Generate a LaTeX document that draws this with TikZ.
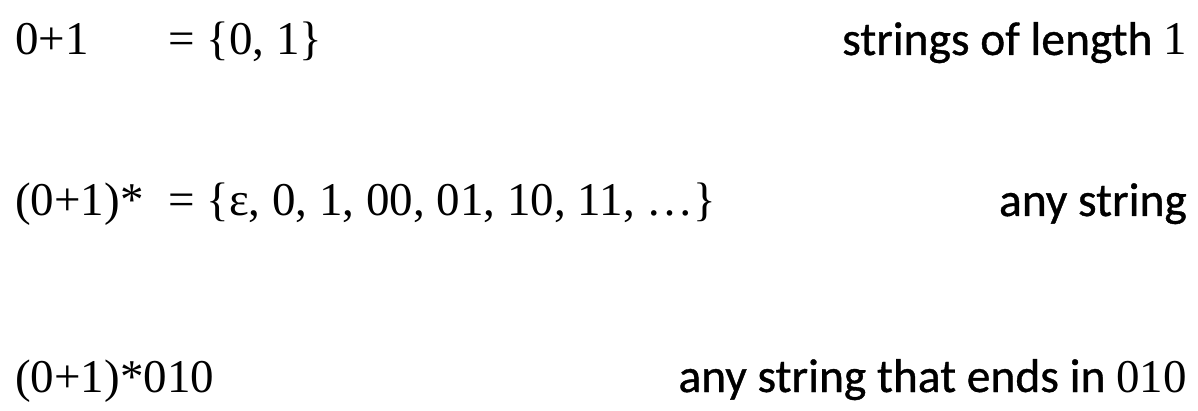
\documentclass[tikz,border=0pt]{standalone}
\usepackage{fontspec}
\setmainfont{Liberation Serif}
\newfontfamily\gillish[FakeBold=0.8]{Carlito}
\begin{document}
\begin{tikzpicture}[x=1pt,y=-1pt,
  lhs/.style={anchor=base west,inner sep=0pt,font=\fontsize{47}{50}\selectfont},
  rhs/.style={anchor=base east,inner sep=0pt,font=\fontsize{47.5}{50}\selectfont\gillish}]
\useasboundingbox[fill=white] (0,0) rectangle (1198,411);
\node[lhs] (r1a) at (15,55) {0+1};
\node[lhs] (r1b) at (168,55) {= \{0, 1\}};
\node[rhs] (r1c) at (1187,55) {strings of length {\rmfamily\fontsize{47}{50}\selectfont 1}};
\node[lhs] (r2a) at (15,216) {(0+1)*};
\node[lhs] (r2b) at (168,216) {= \{ε, 0, 1, 00, 01, 10, 11, …\}};
\node[rhs] (r2c) at (1187,216) {any string};
\node[lhs] (r3a) at (15,392) {(0+1)*010};
\node[rhs] (r3c) at (1187,392) {any string that ends in {\rmfamily\fontsize{47}{50}\selectfont 010}};
\end{tikzpicture}
\end{document}
